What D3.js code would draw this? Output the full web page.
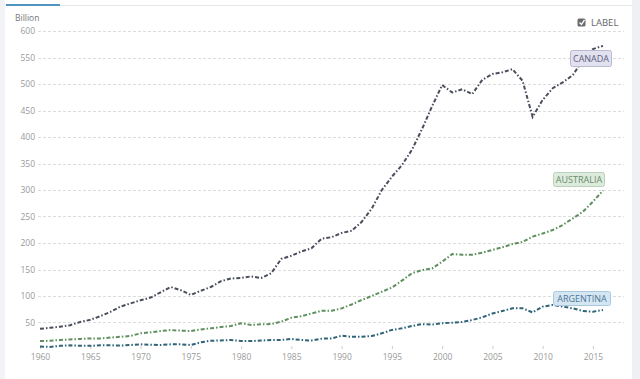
<!DOCTYPE html>
<html><head><meta charset="utf-8">
<script src="https://cdn.jsdelivr.net/npm/d3@7"></script>
<style>body{margin:0;background:#fff;font-family:"Open Sans",sans-serif;}</style>
</head><body><svg id="c" width="640" height="379"></svg>
<script>
const years = d3.range(1960, 2017);
const yTicks = [50,100,150,200,250,300,350,400,450,500,550,600];
const xTicks = [1960,1965,1970,1975,1980,1985,1990,1995,2000,2005,2010,2015];
const canada = [38,40,42,45,51,55,62,70,80,86,92,97,107,117,111,102,110,117,128,133,134,137,134,143,170,176,184,190,208,211,219,223,240,265,300,325,347,376,415,458,498,484,490,481,508,519,522,528,506,438,470,492,503,517,545,566,572];
const australia = [15,15.5,17,18,19,20,20,21.5,23,24.5,29.6,31.4,34,35.8,34.6,34,37,39,41.5,43.4,48.5,45.3,46.5,47,51.5,59,62,67,72,72,76.7,84,92.5,100,108,116,129,143,149,152,164.7,179,178,178,181.7,187,192,198,202,212,218,224.5,234,246.5,259,278,299];
const argentina = [4.5,4,6,7,6,6,7,7,6.5,7.5,8.8,8,7.5,8.8,8.8,7.5,12.6,15.7,16,17,15,15,16,17,17,19,17,16,19.5,20,25,23,23,24.5,29.6,36,39,43.4,47,46,48.5,49.6,51,54.7,59.8,67,71.7,76.7,76.7,69,80,83,80,76.7,71.7,70.4,73.6];
const seriesNames = ["CANADA","AUSTRALIA","ARGENTINA"];

const svg = d3.select("#c");
// frame decorations
svg.append("rect").attr("x",0).attr("y",0).attr("width",5).attr("height",379).attr("fill","#f1f3f6");
svg.append("rect").attr("x",632).attr("y",0).attr("width",8).attr("height",379).attr("fill","#eef0f4");
svg.append("line").attr("x1",5).attr("x2",632).attr("y1",5.5).attr("y2",5.5).attr("stroke","#e4e7ec").attr("stroke-width",1);
svg.append("line").attr("x1",6).attr("x2",60).attr("y1",5).attr("y2",5).attr("stroke","#4f95c0").attr("stroke-width",2);

const x = d3.scaleLinear().domain([1960,2016]).range([40,603]);
const y = d3.scaleLinear().domain([0,600]).range([349,31]);

// grid
svg.append("g").selectAll("line").data(yTicks).join("line")
  .attr("x1",38).attr("x2",624).attr("y1",d=>Math.round(y(d))+0.5).attr("y2",d=>Math.round(y(d))+0.5)
  .attr("stroke","#dcdcdc").attr("stroke-dasharray","3,2");
svg.append("g").selectAll("text").data(yTicks).join("text")
  .attr("x",35).attr("y",d=>y(d)+3).attr("text-anchor","end")
  .attr("font-size",8.5).attr("fill","#9a9a9a").text(d=>d);
svg.append("text").attr("x",15).attr("y",21).attr("font-size",8.5).attr("fill","#777").text("Billion");

// x axis
const xAxis = d3.axisBottom(x).tickValues(xTicks).tickSize(3).tickFormat(d3.format("d"));
const gx = svg.append("g").attr("transform","translate(0,346)").call(xAxis);
gx.select(".domain").remove();
gx.selectAll(".tick line").attr("stroke","#ccc");
gx.selectAll(".tick text").attr("font-size",8.5).attr("fill","#9a9a9a").attr("font-family","Open Sans, sans-serif").attr("dy","0.9em");

// lines
const line = d3.line().x((d,i)=>x(years[i])).y(d=>y(d));
const cols = ["#4a4e5c","#5e8f5e","#2f6378"];
[canada,australia,argentina].forEach((s,k)=>{
  svg.append("path").datum(s).attr("d",line).attr("fill","none")
    .attr("stroke",cols[k]).attr("stroke-width",2)
    .attr("stroke-dasharray","4,2,1.5,2");
});

// labels
const lab = [
  {t:seriesNames[0], x:570, y:50, w:41, h:16, fill:"#e1e1ef", stroke:"#b9b9cf", tc:"#5e5e7e"},
  {t:seriesNames[1], x:553, y:172, w:51, h:14, fill:"#dcebdc", stroke:"#b9d2b9", tc:"#6a8c6a"},
  {t:seriesNames[2], x:553, y:291, w:57, h:14, fill:"#d5e6f3", stroke:"#a9c8e0", tc:"#4d7596"}
];
lab.forEach(l=>{
  svg.append("rect").attr("x",l.x+0.5).attr("y",l.y+0.5).attr("width",l.w).attr("height",l.h).attr("rx",2)
    .attr("fill",l.fill).attr("stroke",l.stroke);
  svg.append("text").attr("x",l.x+l.w/2+0.5).attr("y",l.y+l.h/2+4).attr("text-anchor","middle")
    .attr("font-size",9).attr("fill",l.tc).text(l.t);
});

// checkbox LABEL
svg.append("rect").attr("x",577.5).attr("y",18.5).attr("width",8).attr("height",8).attr("rx",1.5).attr("fill","#6b6b6b");
svg.append("path").attr("d","M579.5,22.5 L581.5,24.5 L584.5,19.8").attr("stroke","#fff").attr("stroke-width",1.3).attr("fill","none");
svg.append("text").attr("x",591).attr("y",26).attr("font-size",9.5).attr("fill","#666").text("LABEL");
</script></body></html>
